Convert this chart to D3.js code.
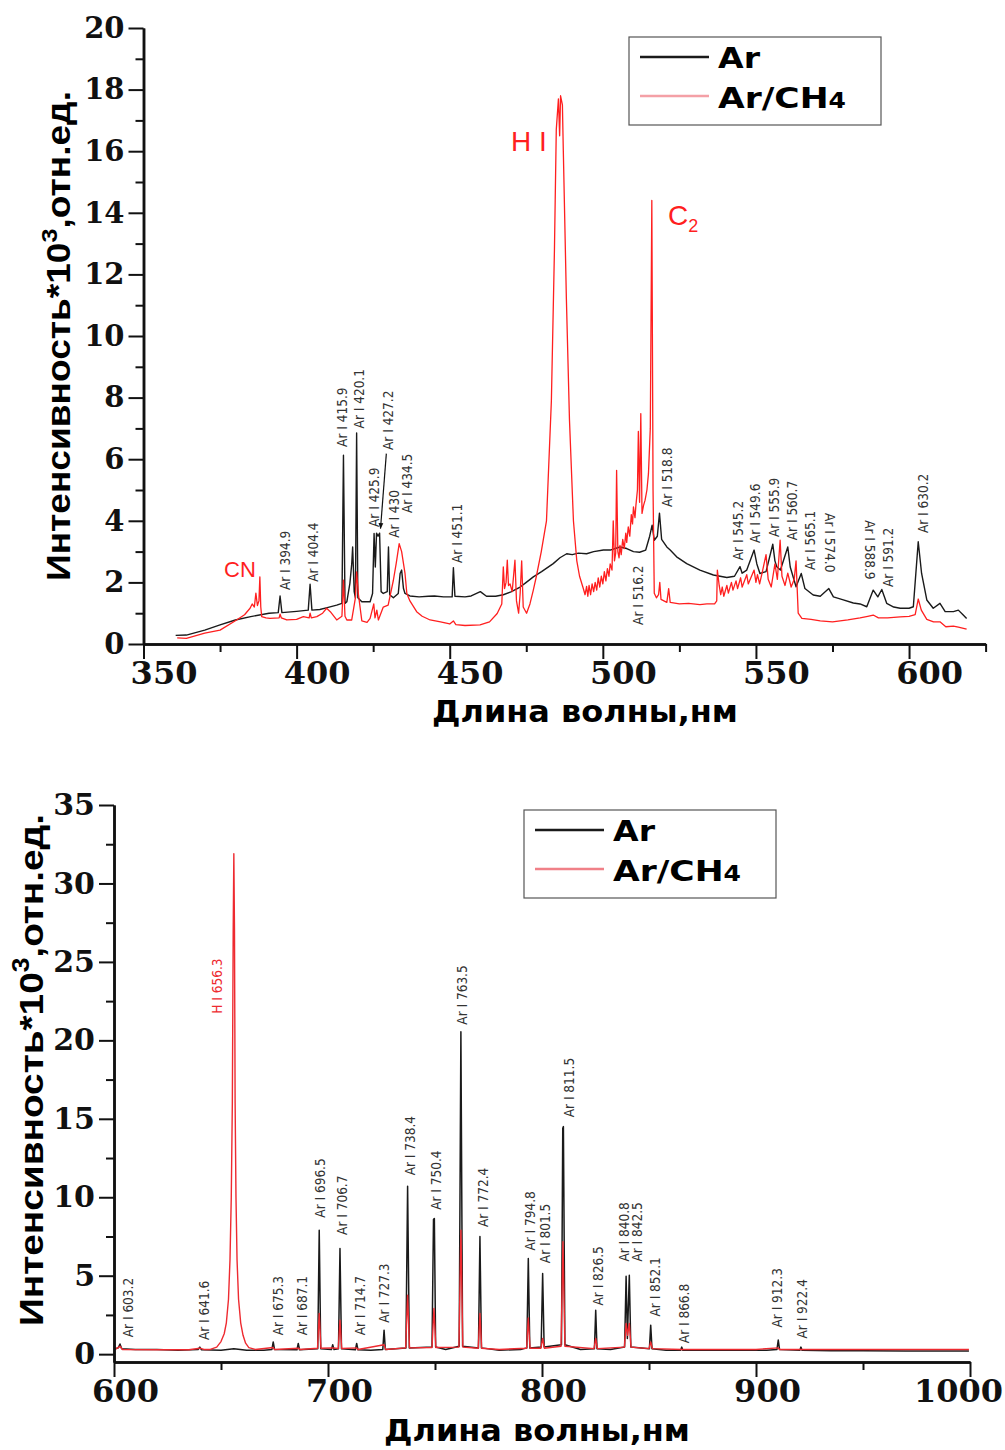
<!DOCTYPE html>
<html>
<head>
<meta charset="utf-8">
<script src="https://cdn.jsdelivr.net/npm/d3@7"></script>
<style>
  body { margin: 0; background: #fff; }
  svg { display: block; }
</style>
</head>
<body>
<script>
// ---------- data: top panel (350-625 nm) ----------
let topAr = [
  [360.5,0.28],[364,0.29],[370,0.45],[375,0.62],[380,0.78],[385,0.89],[391,1.0],[394.0,1.02],[394.6,1.56],[395.2,1.02],
  [400,1.06],[403.8,1.1],[404.4,1.94],[405.0,1.1],[407.6,1.12],[410,1.18],[413.1,1.26],[414.8,1.32],[415.3,6.13],[415.8,1.32],
  [416.4,1.37],[417.4,1.97],[418.0,2.6],[418.3,3.15],[418.8,1.7],[419.2,1.5],[419.6,6.85],[420.0,1.5],[421.3,1.37],[424.0,1.37],
  [424.8,1.64],[425.3,3.59],[425.7,2.5],[426.1,3.6],[426.6,3.5],[427.1,3.6],[427.6,1.7],[428.3,1.64],[429.6,1.7],[430.0,3.15],
  [430.4,1.6],[431.6,1.5],[433.2,1.64],[433.8,2.29],[434.3,2.4],[434.9,1.8],[435.4,1.64],[437,1.56],[440,1.53],[443,1.55],
  [445,1.56],[448,1.53],[450.8,1.53],[451.2,2.48],[451.7,1.55],[455,1.53],[457,1.56],[460,1.7],[462,1.55],[465,1.55],
  [467.5,1.6],[470,1.69],[473,1.85],[475,2.0],[477.3,2.18],[480,2.35],[483.8,2.61],[486,2.8],[488.2,2.93],[490,2.9],
  [492,2.95],[494.7,2.93],[497,3.0],[500.2,3.05],[502.4,3.05],[505.6,3.15],[507.8,3.1],[510,3.0],[512,2.98],[514,3.05],
  [515.3,3.5],[516.1,3.86],[516.8,3.37],[517.8,3.5],[518.5,4.25],[519.2,3.4],[520.9,3.15],[522,3.05],[524.1,2.83],[527.4,2.61],
  [531.7,2.4],[536.1,2.24],[540.5,2.16],[543,2.2],[544.8,2.51],[545.5,2.3],[547,2.4],[549.4,3.05],[550.3,2.6],[551.3,2.29],
  [553.3,2.35],[555.5,3.24],[556.2,2.7],[556.8,2.51],[558,2.4],[560.4,3.15],[561.2,2.5],[563.1,1.86],[564.8,2.29],[566.0,1.8],
  [568.7,1.59],[571,1.55],[573.8,1.8],[575.3,1.53],[578,1.45],[581.8,1.33],[584,1.3],[586.2,1.21],[588.3,1.75],[589.8,1.53],
  [591.1,1.77],[592.7,1.32],[595,1.2],[597.1,1.16],[600,1.16],[601.4,1.21],[603.0,3.32],[604.1,2.29],[605.8,1.43],[607.9,1.16],
  [610.1,1.32],[611.8,1.05],[614.5,1.05],[616.1,1.1],[617.7,0.94],[618.8,0.83]
];

let topArCH4 = [
  [361,0.2],[364,0.18],[370,0.35],[375,0.45],[380.4,0.78],[383,0.95],[384.8,1.16],[385.5,1.3],[386.2,1.2],[386.7,1.65],
  [387.2,1.25],[387.7,1.4],[388.0,2.18],[388.3,1.2],[388.6,0.89],[390,0.85],[391.3,0.83],[394.3,0.85],[394.6,0.97],[395,0.85],
  [396.8,0.78],[400,0.8],[402.2,0.89],[404.1,0.85],[404.4,1.0],[404.8,0.85],[406.6,0.89],[408.5,1.0],[409.8,1.16],[411,1.05],
  [413.1,0.78],[414.8,0.9],[415.3,2.07],[415.8,0.9],[416.4,0.78],[418,0.78],[419.2,1.5],[419.6,2.34],[420.2,1.6],[421.3,0.75],
  [423,0.7],[424,0.83],[425.2,1.3],[425.6,0.85],[426.2,1.1],[426.7,0.78],[428.3,1.2],[429.9,1.26],[431.6,2.07],[432.5,2.6],
  [433.5,3.26],[434.3,3.0],[435.4,2.29],[436.0,1.64],[437,1.4],[439.2,1.05],[441,0.9],[443.6,0.78],[447,0.72],[450,0.65],
  [451.2,0.75],[452,0.63],[455,0.6],[459.9,0.62],[463,0.72],[465.5,0.99],[467.0,1.3],[467.5,2.5],[467.9,1.8],[468.4,2.0],
  [468.8,2.72],[469.2,1.9],[469.7,1.95],[470.4,1.7],[471.3,2.72],[471.8,1.4],[472.5,1.0],[473.0,1.64],[473.5,2.7],[474.0,1.2],
  [475.1,1.0],[476.2,1.3],[477.3,1.75],[478.3,2.2],[479.9,3.0],[481.6,4.0],[483.2,7.9],[484.2,12.8],[484.8,16.7],[485.5,17.7],
  [485.9,16.5],[486.2,17.8],[486.8,17.5],[487.1,16.0],[488.1,11.2],[489.1,7.3],[490.4,4.0],[491.5,2.7],[492.4,2.2],[493.6,1.81],
  [494.2,1.6],[494.7,1.87],[495.1,1.55],[495.5,1.9],[496.0,1.6],[496.5,1.95],[497.0,1.7],[497.5,2.0],[498.0,1.75],[498.5,2.15],
  [499.0,1.85],[499.5,2.2],[500.0,1.95],[500.5,2.35],[501.0,2.05],[501.5,2.45],[502.0,2.2],[502.4,2.6],[503.0,2.4],[503.4,4.0],
  [503.8,2.7],[504.2,2.95],[504.5,5.64],[504.9,3.0],[505.3,2.8],[505.6,3.2],[506.0,2.9],[506.5,3.4],[507.0,3.1],[507.5,3.6],
  [507.8,3.3],[508.3,3.8],[508.8,3.5],[509.3,4.2],[509.7,3.9],[510.0,4.45],[510.5,4.1],[510.8,4.5],[511.3,5.0],[511.6,6.9],
  [512.0,4.6],[512.4,7.48],[512.8,4.24],[513.3,4.5],[513.8,4.67],[514.4,5.0],[514.9,5.53],[515.5,7.0],[516.0,14.4],[516.4,5.0],
  [516.8,1.65],[517.5,1.5],[518.2,1.6],[518.6,2.0],[519.0,1.45],[520.9,1.35],[521.5,1.8],[522,1.35],[525,1.3],[528,1.32],
  [531.7,1.28],[534,1.3],[536.5,1.3],[537.2,1.4],[537.4,2.4],[538,1.9],[538.5,1.6],[539,1.85],[539.5,1.55],[540.5,1.9],
  [541,1.65],[542,2.0],[542.5,1.75],[543.5,2.05],[544,1.8],[545,2.15],[545.5,1.85],[547,2.25],[547.5,1.95],[549.4,2.4],
  [550.0,2.0],[550.5,2.25],[551.2,1.95],[552,2.3],[553.3,2.9],[554,2.1],[555,1.85],[556.2,2.6],[557.0,2.1],[557.9,3.37],
  [558.5,2.2],[559.5,1.9],[560.4,2.3],[561.5,1.85],[562.5,2.1],[563.1,2.7],[563.8,1.0],[565,0.83],[568,0.8],[571,0.75],
  [575,0.72],[580,0.78],[584,0.85],[586.5,0.9],[588.3,0.94],[590,0.85],[593,0.85],[597.1,0.88],[600,0.9],[602,0.95],
  [603.0,1.46],[604,1.1],[605.8,0.8],[608,0.72],[610.1,0.72],[612,0.56],[614.5,0.58],[616.1,0.55],[618.8,0.48]
];

// label text, wavelength where it sits, intensity at the label's start
let topLabels = [
  ["Ar I 394.9",396.2,1.75],["Ar I 404.4",405.5,2.02],["Ar I 415.9",414.8,6.4],["Ar I 420.1",420.4,7.0],
  ["Ar I 425.9",425.3,3.8],["Ar I 427.2",429.8,6.3],["Ar I 430",431.7,3.45],["Ar I 434.5",436.0,4.25],
  ["Ar I 451.1",452.4,2.63],["Ar I 516.2",511.5,0.62],["Ar I 518.8",521.0,4.45],["Ar I 545.2",544.2,2.72],
  ["Ar I 549.6",549.7,3.28],["Ar I 555.9",555.9,3.47],["Ar I 560.7",561.8,3.37],["Ar I 565.1",567.7,2.4],
  ["Ar I 591.2",593.2,1.85],["Ar I 630.2",604.6,3.6]
];
let topLabelsDown = [["Ar I 574.0",574.2,4.25],["Ar I 588.9",587.3,4.02]];
let arrow4272 = [[429.3,6.18],[427.4,3.75]];

let topXTicks = [350, 400, 450, 500, 550, 600];
let topXMinor = [375, 425, 475, 525, 575, 625];
let topYTicks = [0, 2, 4, 6, 8, 10, 12, 14, 16, 18, 20];
let topYMinor = [1, 3, 5, 7, 9, 11, 13, 15, 17, 19];

// ---------- data: bottom panel (600-1000 nm) ----------
let botAr = [
  [600.5,0.35],[602.0,0.4],[602.8,0.65],[603.6,0.35],[610,0.3],[620,0.3],[630,0.25],[639.3,0.3],[640.1,0.45],[640.9,0.28],
  [650,0.25],[656,0.35],[662,0.25],[670,0.25],[673.8,0.3],[674.4,0.78],[675.0,0.3],[685.5,0.28],[686.1,0.68],[686.7,0.28],
  [695.2,0.35],[695.9,7.9],[696.6,0.35],[701.6,0.3],[702.2,0.6],[702.8,0.3],[704.9,0.35],[705.6,6.74],[706.3,0.35],[712.8,0.28],
  [713.4,0.68],[714.0,0.28],[720,0.25],[725.6,0.3],[726.2,1.53],[726.8,0.3],[736.4,0.4],[737.2,10.7],[738.0,0.4],[748.6,0.45],
  [749.3,8.6],[749.7,8.65],[750.3,0.45],[755,0.3],[761.3,0.5],[762.1,20.55],[762.9,0.5],[770.3,0.4],[771.0,7.5],[771.7,0.4],
  [780,0.25],[790,0.3],[792.9,0.4],[793.6,6.1],[794.3,0.4],[799.6,0.45],[800.3,5.14],[801.0,0.45],[809.1,0.6],[809.7,14.4],
  [810.0,14.5],[810.7,0.6],[818,0.3],[824.5,0.35],[825.1,2.8],[825.7,0.35],[832,0.3],[838.6,0.45],[839.3,4.97],[839.9,1.0],
  [840.8,5.03],[841.5,0.45],[850.2,0.35],[850.8,1.85],[851.4,0.35],[858,0.25],[864.8,0.25],[865.3,0.45],[865.8,0.25],[880,0.25],
  [895,0.25],[905,0.25],[909.8,0.3],[910.4,0.9],[911.0,0.3],[920.5,0.25],[921.0,0.45],[921.5,0.25],[935,0.22],[950,0.22],
  [970,0.2],[985,0.2],[999.5,0.2]
];

let botArCH4 = [
  [600.5,0.3],[602.8,0.5],[604,0.3],[620,0.28],[635,0.28],[640.1,0.38],[642,0.3],[645,0.3],[648,0.45],[650,0.8],
  [651.5,1.3],[652.5,2.0],[653.5,3.5],[654.2,6.0],[654.8,10],[655.3,16],[655.7,27],[656.0,31.9],[656.3,27],[656.6,16],
  [657.0,10],[657.5,6.0],[658.2,3.5],[659.2,2.0],[660.3,1.2],[661.5,0.7],[663,0.42],[666,0.3],[674.4,0.42],[675,0.3],
  [686.1,0.38],[687,0.3],[695.1,0.38],[695.9,2.6],[696.7,0.38],[702.2,0.4],[704.8,0.36],[705.6,2.17],[706.4,0.36],[713.4,0.4],
  [714,0.3],[726.2,0.6],[727,0.3],[736.3,0.4],[737.2,3.76],[738.1,0.4],[748.6,0.42],[749.5,2.91],[750.4,0.42],[761.2,0.45],
  [762.1,7.9],[763.0,0.45],[770.2,0.38],[771.0,2.6],[771.8,0.38],[780,0.3],[792.8,0.38],[793.6,2.3],[794.4,0.38],[799.5,0.38],
  [800.3,1.0],[801.1,0.38],[808.9,0.5],[809.8,7.16],[810.7,0.5],[824.3,0.35],[825.1,1.0],[825.9,0.35],[838.5,0.45],[839.3,1.96],
  [840.0,1.2],[840.8,1.96],[841.6,0.45],[850.0,0.35],[850.8,0.78],[851.6,0.35],[865.3,0.3],[880,0.3],[900,0.3],[910.4,0.4],
  [911,0.3],[921,0.3],[940,0.3],[960,0.3],[980,0.3],[999.5,0.3]
];

let botLabels = [
  ["Ar I 603.2",606.5,1.08],["Ar I 641.6",642.1,0.9],["Ar I 675.3",676.6,1.2],["Ar I 687.1",687.9,1.2],
  ["Ar I 696.5",696.3,8.7],["Ar I 706.7",706.5,7.6],["Ar I 714.7",715.0,1.2],["Ar I 727.3",726.2,2.0],
  ["Ar I 738.4",738.3,11.4],["Ar I 750.4",750.5,9.2],["Ar I 763.5",762.6,21.0],["Ar I 772.4",772.4,8.1],
  ["Ar I 794.8",794.4,6.6],["Ar I 801.5",801.4,5.8],["Ar I 811.5",812.6,15.1],["Ar I 826.5",826.2,3.1],
  ["Ar I 840.8",838.3,5.9],["Ar I 842.5",844.4,5.9],["Ar I 852.1",852.8,2.4],["Ar I 866.8",866.4,0.7],
  ["Ar I 912.3",909.8,1.7],["Ar I 922.4",921.5,1.0]
];
let botLabelsH = [["H I 656.3",648.1,21.7]];

let botXTicks = [600, 700, 800, 900, 1000];
let botXMinor = [650, 750, 850, 950];
let botYTicks = [0, 5, 10, 15, 20, 25, 30, 35];
let botYMinor = [2.5, 7.5, 12.5, 17.5, 22.5, 27.5, 32.5];

// ---------- drawing ----------
const RED = "#ff1f1f";
const BLACK = "#1a1a1a";
const tickFont = "'DejaVu Serif', serif";
const labelFont = "'Liberation Sans Narrow','DejaVu Sans Condensed',Arial,sans-serif";
const wideFont = "'DejaVu Sans', Verdana, sans-serif";

let svg = d3.select("body").append("svg").attr("width", 1005).attr("height", 1450);

svg.append("defs").append("marker")
  .attr("id", "arrowhead")
  .attr("viewBox", "0 0 10 10")
  .attr("refX", 9).attr("refY", 5)
  .attr("markerWidth", 5).attr("markerHeight", 7)
  .attr("orient", "auto")
  .append("path").attr("d", "M0,1 L10,5 L0,9 Z").attr("fill", "#111");

let topX = d3.scaleLinear().domain([350, 625]).range([143.5, 985.6]);
let topY = d3.scaleLinear().domain([0, 20]).range([644, 28]);
let botX = d3.scaleLinear().domain([600, 1000]).range([114, 970]);
let botY = d3.scaleLinear().domain([-0.5, 35]).range([1362, 805]);

function drawSeries(x, y, data, color, width) {
  let line = d3.line().x((d) => x(d[0])).y((d) => y(d[1]));
  svg.append("path")
    .datum(data)
    .attr("d", line)
    .attr("fill", "none")
    .attr("stroke", color)
    .attr("stroke-width", width)
    .attr("stroke-linejoin", "round");
}

function styleAxis(g, fs) {
  g.select(".domain").attr("stroke", "#111").attr("stroke-width", 2.5);
  g.selectAll(".tick line").attr("stroke", "#111").attr("stroke-width", 2);
  g.selectAll(".tick text")
    .attr("fill", "#111")
    .attr("font-family", tickFont)
    .attr("font-weight", "bold")
    .attr("font-size", fs + "px");
}

function drawAxes(x, y, xt, xm, yt, ym, xdx, xfs, yfs) {
  let h = y.range()[0];
  let l = x.range()[0];

  let xa = svg.append("g").attr("transform", `translate(0,${h})`)
    .call(d3.axisBottom(x).tickValues(xt).tickSize(15).tickSizeOuter(0).tickPadding(2).tickFormat(d3.format("d")));
  let xm2 = svg.append("g").attr("transform", `translate(0,${h})`)
    .call(d3.axisBottom(x).tickValues(xm).tickSize(8).tickSizeOuter(0).tickFormat(""));
  xa.selectAll("text").attr("dx", xdx);

  let ya = svg.append("g").attr("transform", `translate(${l},0)`)
    .call(d3.axisLeft(y).tickValues(yt).tickSize(15).tickSizeOuter(0).tickPadding(4).tickFormat(d3.format("d")));
  let ym2 = svg.append("g").attr("transform", `translate(${l},0)`)
    .call(d3.axisLeft(y).tickValues(ym).tickSize(8).tickSizeOuter(0).tickFormat(""));

  styleAxis(xa, xfs);
  styleAxis(xm2, xfs);
  styleAxis(ya, yfs);
  styleAxis(ym2, yfs);
}

function drawLabels(x, y, labels, color, down) {
  svg.append("g").selectAll("text")
    .data(labels)
    .enter()
    .append("text")
    .attr("transform", (d) => `translate(${x(d[1]) + (down ? -5 : 5)},${y(d[2])}) rotate(${down ? 90 : -90})`)
    .attr("font-family", labelFont)
    .attr("font-size", "13.5px")
    .attr("fill", color)
    .text((d) => d[0]);
}

function drawYTitle(cx, cy, fs, len) {
  let t = svg.append("text")
    .attr("transform", `translate(${cx},${cy}) rotate(-90)`)
    .attr("text-anchor", "middle")
    .attr("font-family", "'Liberation Sans', Arial, sans-serif")
    .attr("font-weight", "bold")
    .attr("font-size", fs + "px")
    .attr("textLength", len)
    .attr("lengthAdjust", "spacingAndGlyphs")
    .attr("fill", "#000");
  t.append("tspan").text("Интенсивность*10");
  t.append("tspan").attr("dy", -fs * 0.4).attr("font-size", fs * 0.68 + "px").text("3");
  t.append("tspan").attr("dy", fs * 0.4).text(",отн.ед.");
}

function drawXTitle(cx, by) {
  svg.append("text")
    .attr("x", cx - 153).attr("y", by)
    .attr("font-family", wideFont)
    .attr("font-weight", "bold")
    .attr("font-size", "30px")
    .attr("textLength", 306)
    .attr("lengthAdjust", "spacingAndGlyphs")
    .attr("fill", "#000")
    .text("Длина волны,нм");
}

function drawLegend(bx, by, red) {
  svg.append("rect")
    .attr("x", bx).attr("y", by).attr("width", 252).attr("height", 88)
    .attr("fill", "#fff").attr("stroke", "#555").attr("stroke-width", 1.2);
  svg.append("line")
    .attr("x1", bx + 11).attr("x2", bx + 80).attr("y1", by + 20).attr("y2", by + 20)
    .attr("stroke", BLACK).attr("stroke-width", 2.5);
  svg.append("line")
    .attr("x1", bx + 11).attr("x2", bx + 80).attr("y1", by + 59).attr("y2", by + 59)
    .attr("stroke", red).attr("stroke-width", 2.5);
  let font = (s) => s.attr("font-family", wideFont)
    .attr("font-weight", "bold").attr("font-size", "29px").attr("fill", "#000")
    .attr("lengthAdjust", "spacingAndGlyphs");
  svg.append("text").attr("x", bx + 89).attr("y", by + 31).call(font).attr("textLength", 42).text("Ar");
  let t = svg.append("text").attr("x", bx + 89).attr("y", by + 71).call(font).attr("textLength", 128);
  t.append("tspan").text("Ar/CH");
  t.append("tspan").attr("font-size", "21px").text("4");
}

// top panel
drawSeries(topX, topY, topAr, BLACK, 1.4);
drawSeries(topX, topY, topArCH4, RED, 1.3);
drawAxes(topX, topY, topXTicks, topXMinor, topYTicks, topYMinor, 20, 32, 29);
drawLabels(topX, topY, topLabels, "#333", false);
drawLabels(topX, topY, topLabelsDown, "#333", true);

svg.append("line")
  .attr("x1", topX(arrow4272[0][0])).attr("y1", topY(arrow4272[0][1]))
  .attr("x2", topX(arrow4272[1][0])).attr("y2", topY(arrow4272[1][1]))
  .attr("stroke", "#111").attr("stroke-width", 1.2)
  .attr("marker-end", "url(#arrowhead)");

svg.append("text").attr("x", 224).attr("y", 577)
  .attr("font-family", "'Liberation Sans', Arial, sans-serif").attr("font-size", "22px")
  .attr("fill", RED).text("CN");
svg.append("text").attr("x", 511).attr("y", 151)
  .attr("font-family", "'Liberation Sans', Arial, sans-serif").attr("font-size", "28px")
  .attr("fill", RED).text("H I");
let c2 = svg.append("text").attr("x", 668).attr("y", 225)
  .attr("font-family", "'Liberation Sans', Arial, sans-serif").attr("font-size", "28px")
  .attr("fill", RED);
c2.append("tspan").text("C");
c2.append("tspan").attr("dy", 7).attr("font-size", "18px").text("2");

drawYTitle(70, 336, 33, 490);
drawXTitle(585, 722);
drawLegend(629, 37, "#f4a0a6");

// bottom panel
drawSeries(botX, botY, botAr, BLACK, 1.5);
drawSeries(botX, botY, botArCH4, "#ee2a30", 1.4);
drawAxes(botX, botY, botXTicks, botXMinor, botYTicks, botYMinor, (d) => (d === 1000 ? -12 : 11), 32, 30);
drawLabels(botX, botY, botLabels, "#333", false);
drawLabels(botX, botY, botLabelsH, "#ee2a30", false);

drawYTitle(43, 1070, 34, 512);
drawXTitle(537, 1441);
drawLegend(524, 810, "#f08088");
</script>
</body>
</html>
